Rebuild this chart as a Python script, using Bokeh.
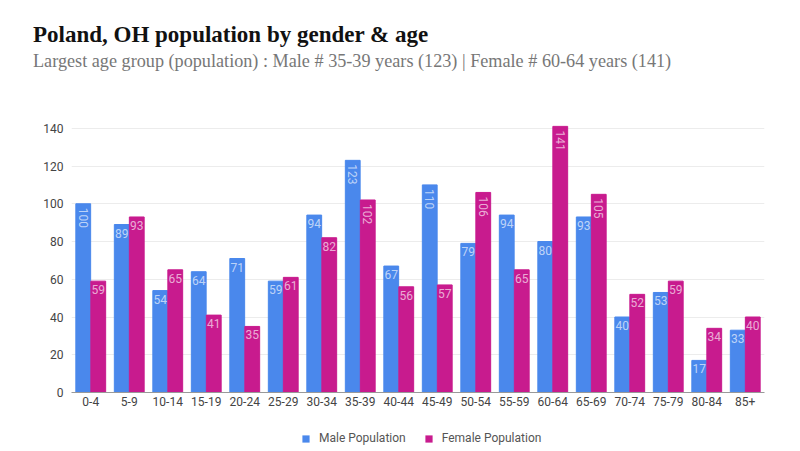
import math
from bokeh.plotting import figure
from bokeh.layouts import column
from bokeh.models import (ColumnDataSource, FactorRange, Range1d, Legend, LegendItem,
                          SingleIntervalTicker, Div)
from bokeh.transform import dodge
from bokeh.core.properties import value
from bokeh.embed import file_html
from bokeh.resources import INLINE

age_groups = ["0-4", "5-9", "10-14", "15-19", "20-24", "25-29", "30-34", "35-39", "40-44",
              "45-49", "50-54", "55-59", "60-64", "65-69", "70-74", "75-79", "80-84", "85+"]
male = [100, 89, 54, 64, 71, 59, 94, 123, 67, 110, 79, 94, 80, 93, 40, 53, 17, 33]
female = [59, 93, 65, 41, 35, 61, 82, 102, 56, 57, 106, 65, 141, 105, 52, 59, 34, 40]
series_names = ["Male Population", "Female Population"]
title_text = "Poland, OH population by gender &amp; age"
subtitle_text = "Largest age group (population) : Male # 35-39 years (123) | Female # 60-64 years (141)"

MALE_C = "#4a88ec"
FEMALE_C = "#c81b8e"
OFF = 0.195
BW = 0.385

src = ColumnDataSource(dict(age=age_groups, male=male, female=female))

p = figure(x_range=FactorRange(*age_groups), y_range=Range1d(0, 142),
           frame_width=693, frame_height=268, output_backend="svg", toolbar_location=None,
           min_border_left=71, min_border_right=36, min_border_top=24, min_border_bottom=29,
           outline_line_color=None)

p.vbar(x=dodge("age", -OFF, range=p.x_range), top="male", width=BW, source=src,
       fill_color=MALE_C, line_color=MALE_C)
p.vbar(x=dodge("age", OFF, range=p.x_range), top="female", width=BW, source=src,
       fill_color=FEMALE_C, line_color=FEMALE_C)

# value labels
def label_sources(vals, off):
    h = dict(x=[], y=[], t=[])
    v = dict(x=[], y=[], t=[])
    for a, val in zip(age_groups, vals):
        d = v if val >= 100 else h
        d["x"].append((a, off))
        d["y"].append(val)
        d["t"].append(str(val))
    return ColumnDataSource(h), ColumnDataSource(v)

for vals, off in ((male, -OFF), (female, OFF)):
    hs, vs = label_sources(vals, off)
    p.text(x="x", y="y", text="t", source=hs, text_align="center", text_baseline="top",
           y_offset=4, text_font=value("Roboto"), text_font_size="12px",
           text_color="white", text_alpha=0.65)
    p.text(x="x", y="y", text="t", source=vs, text_align="left", text_baseline="middle",
           y_offset=4, angle=-math.pi / 2, text_font=value("Roboto"), text_font_size="12px",
           text_color="white", text_alpha=0.65)

# axes
p.yaxis.ticker = SingleIntervalTicker(interval=20)
p.yaxis.axis_line_color = None
p.yaxis.major_tick_line_color = None
p.yaxis.minor_tick_line_color = None
p.yaxis.major_tick_out = 0
p.yaxis.major_tick_in = 0
p.yaxis.major_label_text_font = "Roboto"
p.yaxis.major_label_text_font_size = "12px"
p.yaxis.major_label_text_color = "#444444"
p.yaxis.major_label_standoff = 4

p.xaxis.axis_line_color = "#999999"
p.xaxis.major_tick_line_color = None
p.xaxis.minor_tick_line_color = None
p.xaxis.major_tick_out = 0
p.xaxis.major_tick_in = 0
p.xaxis.major_label_text_font = "Roboto"
p.xaxis.major_label_text_font_size = "12px"
p.xaxis.major_label_text_color = "#444444"
p.xaxis.major_label_standoff = 4
p.x_range.range_padding = 0
p.x_range.group_padding = 0

p.xgrid.grid_line_color = None
p.ygrid.grid_line_color = "#ececec"

# legend strip (separate small figure so the legend sits below the axis);
# the swatch renderers sit outside the visible range, only the legend shows them
lg = figure(frame_width=693, frame_height=30, output_backend="svg", toolbar_location=None,
            min_border_left=71, min_border_right=36, min_border_top=0, min_border_bottom=0,
            x_range=Range1d(0, 1), y_range=Range1d(0, 1),
            x_axis_location=None, y_axis_location=None, outline_line_color=None)
lg.grid.visible = False
sw_m = lg.vbar(x=[-5], top=[-5], bottom=[-6], width=0.1, fill_color=MALE_C, line_color=None)
sw_f = lg.vbar(x=[-5], top=[-5], bottom=[-6], width=0.1, fill_color=FEMALE_C, line_color=None)
legend = Legend(items=[LegendItem(label=series_names[0], renderers=[sw_m]),
                       LegendItem(label=series_names[1], renderers=[sw_f])],
                orientation="horizontal", location=(230, 6),
                label_text_font="Roboto", label_text_font_size="12px",
                label_text_color="#555555", glyph_width=9, glyph_height=9,
                spacing=18, label_standoff=9, border_line_color=None,
                background_fill_alpha=0, margin=0, padding=4)
lg.add_layout(legend, "center")

head = Div(text=(
    f'<div style="font-family:\'Liberation Serif\';font-size:23px;font-weight:bold;color:#111;'
    f'line-height:23px;padding:23px 0 0 33px;white-space:nowrap">{title_text}</div>'
    f'<div style="font-family:\'Liberation Serif\';font-size:18.2px;color:#777;'
    f'line-height:18px;padding:6px 0 0 33px;white-space:nowrap">{subtitle_text}</div>'),
    width=800, height=100, margin=0)

layout = column(head, p, lg, spacing=0)

open("out.html", "w").write(file_html(layout, INLINE))
